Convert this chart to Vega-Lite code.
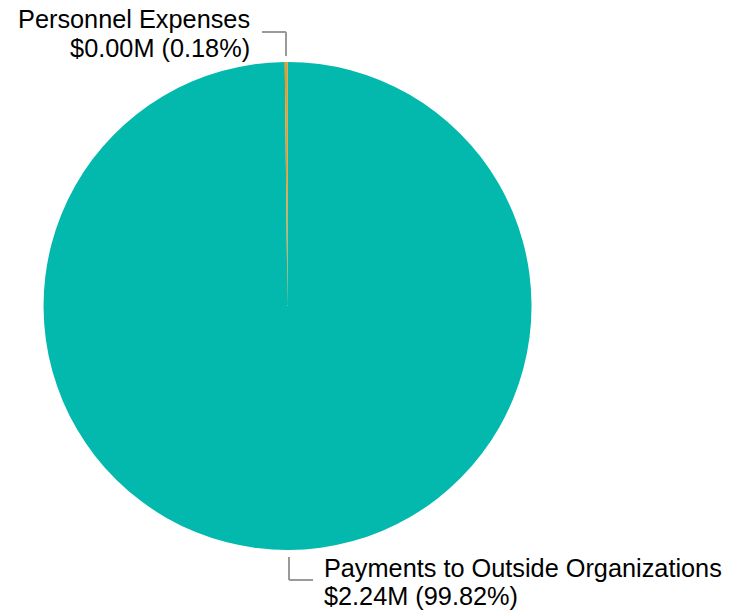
{
  "$schema": "https://vega.github.io/schema/vega-lite/v6.json",
  "width": 575,
  "height": 612,
  "padding": 0,
  "background": "white",
  "config": {"view": {"stroke": null}, "font": "Liberation Sans"},
  "data": {
    "values": [
      {"category": "Payments to Outside Organizations", "amount": 2.24, "share": 99.82, "label": "Payments to Outside Organizations\n$2.24M (99.82%)"},
      {"category": "Personnel Expenses", "amount": 0.004, "share": 0.18, "label": "Personnel Expenses\n$0.00M (0.18%)"}
    ]
  },
  "layer": [
    {
      "mark": {"type": "arc", "outerRadius": 244},
      "encoding": {
        "theta": {"field": "share", "type": "quantitative", "stack": true},
        "order": {"field": "category", "sort": "ascending"},
        "color": {
          "field": "category",
          "type": "nominal",
          "legend": null,
          "scale": {"domain": ["Payments to Outside Organizations", "Personnel Expenses"], "range": ["#03B8AD", "#F7941D"]}
        }
      }
    },
    {
      "mark": {"type": "text", "radius": 250, "align": "right", "baseline": "alphabetic", "dx": -36, "dy": -28, "fontSize": 25.3, "lineHeight": 29, "lineBreak": "\n", "color": "#000000"},
      "encoding": {
        "theta": {"field": "share", "type": "quantitative", "stack": true},
        "order": {"field": "category", "sort": "ascending"},
        "text": {"condition": {"test": "datum.category === 'Personnel Expenses'", "field": "label"}, "value": ""}
      }
    },
    {
      "mark": {"type": "text", "radius": 250, "align": "left", "baseline": "alphabetic", "dx": 35, "dy": 21, "fontSize": 25.3, "lineHeight": 28, "lineBreak": "\n", "color": "#000000"},
      "encoding": {
        "theta": {"field": "share", "type": "quantitative", "stack": true},
        "order": {"field": "category", "sort": "ascending"},
        "text": {"condition": {"test": "datum.category === 'Payments to Outside Organizations'", "field": "label"}, "value": ""}
      }
    },
    {
      "mark": {"type": "rule", "color": "#999999", "strokeWidth": 1.8},
      "encoding": {
        "x": {"datum": -25.5, "type": "quantitative", "scale": {"domain": [-287.5, 287.5], "nice": false, "zero": false}, "axis": null},
        "x2": {"datum": -1.5},
        "y": {"datum": 274, "type": "quantitative", "scale": {"domain": [-306, 306], "nice": false, "zero": false}, "axis": null}
      }
    },
    {
      "mark": {"type": "rule", "color": "#999999", "strokeWidth": 1.8},
      "encoding": {
        "x": {"datum": -1.5, "type": "quantitative"},
        "y": {"datum": 274, "type": "quantitative"},
        "y2": {"datum": 250}
      }
    },
    {
      "mark": {"type": "rule", "color": "#999999", "strokeWidth": 1.8},
      "encoding": {
        "x": {"datum": 1.5, "type": "quantitative"},
        "y": {"datum": -251, "type": "quantitative"},
        "y2": {"datum": -274}
      }
    },
    {
      "mark": {"type": "rule", "color": "#999999", "strokeWidth": 1.8},
      "encoding": {
        "x": {"datum": 1.5, "type": "quantitative"},
        "x2": {"datum": 25.5},
        "y": {"datum": -274, "type": "quantitative"}
      }
    }
  ]
}
